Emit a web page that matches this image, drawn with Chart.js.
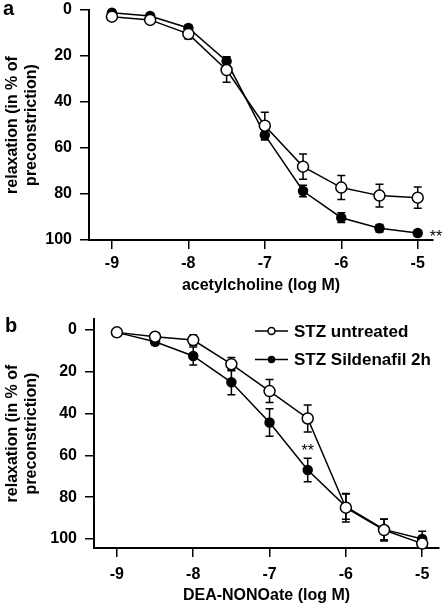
<!DOCTYPE html>
<html>
<head>
<meta charset="utf-8">
<script src="https://cdn.jsdelivr.net/npm/chart.js@4.4.1/dist/chart.umd.min.js"></script>
<style>
  body { margin: 0; background: #fff; width: 446px; height: 608px; position: relative; overflow: hidden;
         font-family: "Liberation Sans", Arial, sans-serif; }
  canvas { position: absolute; left: 0; }
  #chartA { top: 0; }
  #chartB { top: 300px; }
  .panel { position: absolute; font-weight: bold; font-size: 20px; line-height: 1; }
</style>
</head>
<body>
<canvas id="chartA" width="446" height="300"></canvas>
<canvas id="chartB" width="446" height="308"></canvas>
<div class="panel" style="left:3px; top:-2px">a</div>
<div class="panel" style="left:5px; top:315px">b</div>
<script>
const doses = [-9, -8.5, -8, -7.5, -7, -6.5, -6, -5.5, -5];
const xTicks = [-9, -8, -7, -6, -5];
const yTicks = [0, 20, 40, 60, 80, 100];
const seriesNames = ["STZ untreated", "STZ Sildenafil 2h"];

// a: acetylcholine
const achUntreated = [2.9, 4.3, 10.4, 26.1, 50.3, 68.1, 77.2, 80.7, 81.6];
const achUntreatedErr = [0.8, 0.9, 2.2, 5.3, 5.8, 5.5, 5.2, 4.9, 4.6];
const achSildenafil = [1.2, 2.6, 7.8, 22.3, 54.3, 78.7, 90.3, 94.9, 97.0];
const achSildenafilErr = [0.6, 0.7, 1.2, 2.0, 2.2, 2.5, 2.1, 1.6, 1.3];

// b: DEA-NONOate
const deaUntreated = [1.1, 3.2, 4.8, 16.3, 29.2, 42.3, 85.0, 95.7, 102.2];
const deaUntreatedErr = [0.8, 1.5, 2.5, 3.2, 5.5, 6.5, 6.8, 5.2, 2.0];
const deaSildenafil = [1.1, 5.6, 12.4, 25.0, 44.2, 67.0, 84.5, 95.4, 100.0];
const deaSildenafilErr = [0.8, 1.5, 4.3, 6.0, 6.6, 5.6, 6.0, 5.0, 3.7];

// significance marks
const starsA = [{ x: -4.76, y: 97, text: "**" }];
const starsB = [{ x: -6.5, y: 56, text: "**" }];

const FONT = "'Liberation Sans', Arial, sans-serif";

function series(vals, errs, filled, label) {
  return {
    label: label,
    data: doses.map((d, i) => ({ x: d, y: vals[i] })),
    errors: errs,
    filled: filled,
    showLine: true,
    borderColor: "#000",
    borderWidth: 1.5,
    pointRadius: filled ? 4.5 : 5.5,
    pointBackgroundColor: filled ? "#000" : "#fff",
    pointBorderColor: "#000",
    pointBorderWidth: 1.5,
    clip: false
  };
}

const errorBars = {
  id: "errorBars",
  beforeDatasetsDraw(chart) {
    const { ctx, scales: { x, y } } = chart;
    ctx.save();
    ctx.strokeStyle = "#000";
    ctx.lineWidth = 1.5;
    chart.data.datasets.forEach(ds => {
      ds.data.forEach((p, i) => {
        const e = ds.errors[i];
        const px = x.getPixelForValue(p.x);
        const y1 = y.getPixelForValue(p.y - e);
        const y2 = y.getPixelForValue(p.y + e);
        ctx.beginPath();
        ctx.moveTo(px, y1); ctx.lineTo(px, y2);
        ctx.moveTo(px - 4, y1); ctx.lineTo(px + 4, y1);
        ctx.moveTo(px - 4, y2); ctx.lineTo(px + 4, y2);
        ctx.stroke();
      });
    });
    ctx.restore();
  }
};

const stars = {
  id: "stars",
  afterDatasetsDraw(chart, args, opts) {
    const { ctx, scales: { x, y } } = chart;
    ctx.save();
    ctx.fillStyle = "#000";
    ctx.font = "16px " + FONT;
    ctx.textAlign = "center";
    ctx.textBaseline = "alphabetic";
    (opts.items || []).forEach(s => {
      ctx.fillText(s.text, x.getPixelForValue(s.x), y.getPixelForValue(s.y) + 9);
    });
    ctx.restore();
  }
};

// line - marker - line key, as in the figure
const keyLines = {
  id: "keyLines",
  afterDraw(chart, args, opts) {
    if (!opts.show) return;
    const ctx = chart.ctx;
    ctx.save();
    chart.data.datasets.forEach((ds, i) => {
      const cy = 31 + i * 28.5;
      ctx.strokeStyle = "#000";
      ctx.lineWidth = 1.5;
      ctx.beginPath();
      ctx.moveTo(255, cy); ctx.lineTo(288, cy);
      ctx.stroke();
      ctx.beginPath();
      ctx.arc(271.5, cy, ds.filled ? 3 : 3.5, 0, Math.PI * 2);
      ctx.fillStyle = ds.filled ? "#000" : "#fff";
      ctx.fill();
      ctx.stroke();
      ctx.fillStyle = "#000";
      ctx.font = "bold 17px " + FONT;
      ctx.textAlign = "left";
      ctx.textBaseline = "middle";
      ctx.fillText(ds.label, 294, cy + 1);
    });
    ctx.restore();
  }
};

function makeChart(id, xTitle, datasets, o) {
  const font = { family: FONT, size: 16, weight: "bold" };
  const axisGrid = { drawOnChartArea: false, drawTicks: true, tickLength: 9, color: "#000", lineWidth: 1.5 };
  return new Chart(document.getElementById(id), {
    type: "scatter",
    data: { datasets: datasets },
    options: {
      responsive: false,
      animation: false,
      devicePixelRatio: 1,
      layout: { padding: { top: o.top, right: o.right, left: 0, bottom: 0 } },
      plugins: {
        legend: { display: false },
        tooltip: { enabled: false },
        stars: { items: o.stars },
        keyLines: { show: o.legend }
      },
      scales: {
        x: {
          type: "linear",
          min: -9.3,
          max: o.xMax,
          afterBuildTicks: s => { s.ticks = xTicks.map(v => ({ value: v })); },
          afterFit: s => { s.height = 60; s.paddingLeft = 0; s.paddingRight = 0; },
          grid: axisGrid,
          border: { display: true, color: "#000", width: 2 },
          ticks: { color: "#000", font: font, padding: o.xPad, callback: v => String(v), maxRotation: 0 },
          title: { display: true, text: xTitle, color: "#000", font: font, padding: { top: 0, bottom: o.xTitlePad } }
        },
        y: {
          type: "linear",
          reverse: true,
          min: o.yMin,
          max: o.yMax,
          afterBuildTicks: s => { s.ticks = yTicks.map(v => ({ value: v })); },
          afterFit: s => { s.width = o.yWidth; s.paddingTop = 0; s.paddingBottom = 0; },
          grid: axisGrid,
          border: { display: true, color: "#000", width: 2 },
          ticks: { color: "#000", font: font, padding: 8, callback: v => String(v) },
          title: {
            display: true,
            text: ["relaxation (in % of", "preconstriction)"],
            color: "#000",
            font: { family: FONT, size: 16, weight: "bold", lineHeight: 1.2 },
            padding: { top: 3, bottom: 0 }
          }
        }
      }
    },
    plugins: [errorBars, stars, keyLines]
  });
}

makeChart("chartA", "acetylcholine (log M)", [
  series(achUntreated, achUntreatedErr, false, seriesNames[0]),
  series(achSildenafil, achSildenafilErr, true, seriesNames[1])
], { top: 10, right: 13, xMax: -4.8, yMin: 0, yMax: 100, yWidth: 89, xPad: 5, xTitlePad: 5, stars: starsA, legend: false });

makeChart("chartB", "DEA-NONOate (log M)", [
  series(deaUntreated, deaUntreatedErr, false, seriesNames[0]),
  series(deaSildenafil, deaSildenafilErr, true, seriesNames[1])
], { top: 19, right: 6, xMax: -4.78, yMin: -5.3, yMax: 104.3, yWidth: 94, xPad: 8, xTitlePad: 3, stars: starsB, legend: true });
</script>
</body>
</html>
